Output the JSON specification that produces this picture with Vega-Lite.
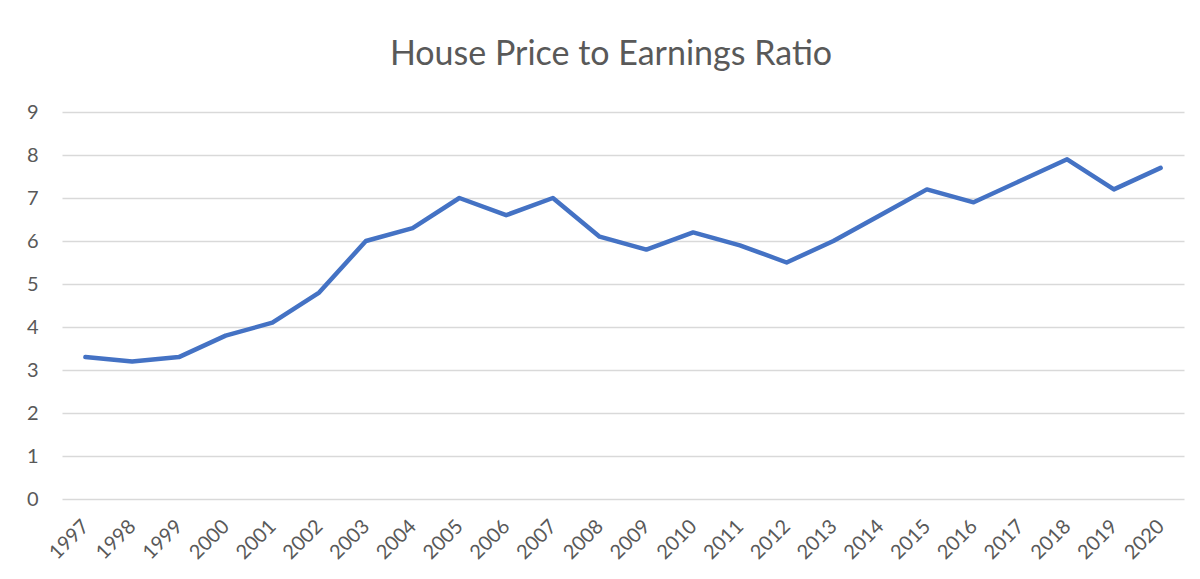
{
  "$schema": "https://vega.github.io/schema/vega-lite/v6.json",
  "autosize": "none",
  "padding": {"left": 62, "top": 112, "right": 16, "bottom": 80},
  "width": 1122,
  "height": 387,
  "background": "white",
  "title": {
    "text": "House Price to Earnings Ratio",
    "font": "Lato",
    "fontSize": 34,
    "fontWeight": "normal",
    "color": "#595959",
    "anchor": "middle",
    "offset": -4,
    "dx": -12,
    "baseline": "bottom"
  },
  "config": {"view": {"stroke": null}},
  "data": {
    "values": [
      {"year": "1997", "ratio": 3.3},
      {"year": "1998", "ratio": 3.2},
      {"year": "1999", "ratio": 3.3},
      {"year": "2000", "ratio": 3.8},
      {"year": "2001", "ratio": 4.1},
      {"year": "2002", "ratio": 4.8},
      {"year": "2003", "ratio": 6.0},
      {"year": "2004", "ratio": 6.3},
      {"year": "2005", "ratio": 7.0},
      {"year": "2006", "ratio": 6.6},
      {"year": "2007", "ratio": 7.0},
      {"year": "2008", "ratio": 6.1},
      {"year": "2009", "ratio": 5.8},
      {"year": "2010", "ratio": 6.2},
      {"year": "2011", "ratio": 5.9},
      {"year": "2012", "ratio": 5.5},
      {"year": "2013", "ratio": 6.0},
      {"year": "2014", "ratio": 6.6},
      {"year": "2015", "ratio": 7.2},
      {"year": "2016", "ratio": 6.9},
      {"year": "2017", "ratio": 7.4},
      {"year": "2018", "ratio": 7.9},
      {"year": "2019", "ratio": 7.2},
      {"year": "2020", "ratio": 7.7}
    ]
  },
  "mark": {"type": "line", "color": "#4472C4", "strokeWidth": 4.5, "strokeJoin": "round", "strokeCap": "round"},
  "encoding": {
    "x": {
      "field": "year",
      "type": "ordinal",
      "scale": {"type": "point", "padding": 0.5},
      "axis": {
        "title": null,
        "labelAngle": -45,
        "labelAlign": "right",
        "labelBaseline": "middle",
        "labelPadding": 24,
        "labelFont": "Lato",
        "labelFontSize": 20,
        "labelColor": "#595959",
        "ticks": false,
        "domain": false,
        "grid": false
      }
    },
    "y": {
      "field": "ratio",
      "type": "quantitative",
      "scale": {"domain": [0, 9], "nice": false},
      "axis": {
        "title": null,
        "values": [0, 1, 2, 3, 4, 5, 6, 7, 8, 9],
        "labelFont": "Lato",
        "labelFontSize": 20,
        "labelColor": "#595959",
        "labelPadding": 24,
        "ticks": false,
        "domain": false,
        "grid": true,
        "gridColor": "#D9D9D9",
        "gridWidth": 1.5
      }
    }
  }
}
